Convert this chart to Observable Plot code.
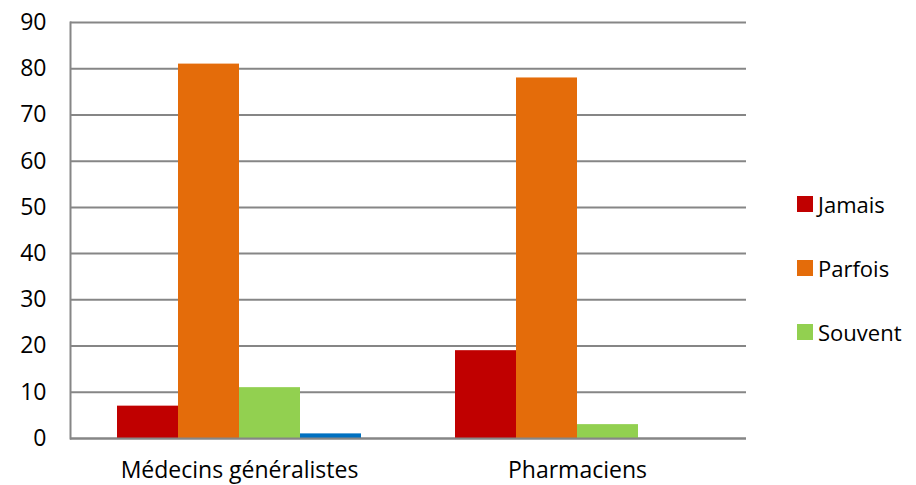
<!DOCTYPE html>
<html><head><meta charset="utf-8">
<script src="https://cdn.jsdelivr.net/npm/d3@7"></script>
<script src="https://cdn.jsdelivr.net/npm/@observablehq/plot@0.6"></script>
<style>
body{margin:0;background:#fff;font-family:"Open Sans",sans-serif;}
#wrap{position:relative;width:916px;height:485px;}
#legend{position:absolute;left:797px;top:172px;font-size:22px;color:#000;}
#legend div{display:flex;align-items:center;height:64px;}
#legend span.sw{width:16px;height:16px;display:inline-block;margin-right:5px;}
</style></head>
<body><div id="wrap"><div id="legend"></div></div>
<script>
const categories = ["Médecins généralistes", "Pharmaciens"];
const series = ["Jamais", "Parfois", "Souvent", "Toujours"];
const legendSeries = ["Jamais", "Parfois", "Souvent"];
const colors = ["#C00000", "#E46C0A", "#92D050", "#0070C0"];
const jamais = [7, 19];
const parfois = [81, 78];
const souvent = [11, 3];
const toujours = [1, 0];
const yTicks = [0, 10, 20, 30, 40, 50, 60, 70, 80, 90];

const values = [jamais, parfois, souvent, toujours];
const data = [];
categories.forEach((c, i) => series.forEach((s, j) => data.push({cat: c, s, v: values[j][i]})));

const plot = Plot.plot({
  width: 916, height: 485,
  marginLeft: 70, marginRight: 170, marginTop: 22, marginBottom: 47,
  style: {fontFamily: "Open Sans", fontSize: "23px", color: "#000", background: "#fff"},
  fx: {domain: categories, padding: 0, label: null},
  x: {domain: series, paddingInner: 0, paddingOuter: 0.73, axis: null},
  y: {domain: [0, 90], label: null},
  color: {domain: series, range: colors},
  marks: [
    Plot.ruleY(yTicks, {stroke: "#868686", strokeWidth: 2}),
    Plot.barY(data, {fx: "cat", x: "s", y: "v", fill: "s", inset: 0}),
    Plot.ruleY([0], {stroke: "#868686", strokeWidth: 2}),
    Plot.frame({anchor: "left", facetAnchor: "left", stroke: "#868686", strokeWidth: 2}),
    Plot.axisY({ticks: yTicks, tickSize: 0, tickPadding: 24, label: null, fontSize: 23}),
    Plot.axisFx({anchor: "bottom", tickSize: 0, tickPadding: 23, label: null, fontSize: 23})
  ]
});
document.getElementById("wrap").prepend(plot);

const lg = document.getElementById("legend");
legendSeries.forEach((s, i) => {
  const d = document.createElement("div");
  d.innerHTML = `<span class="sw" style="background:${colors[i]}"></span>${s}`;
  lg.appendChild(d);
});
</script></body></html>
